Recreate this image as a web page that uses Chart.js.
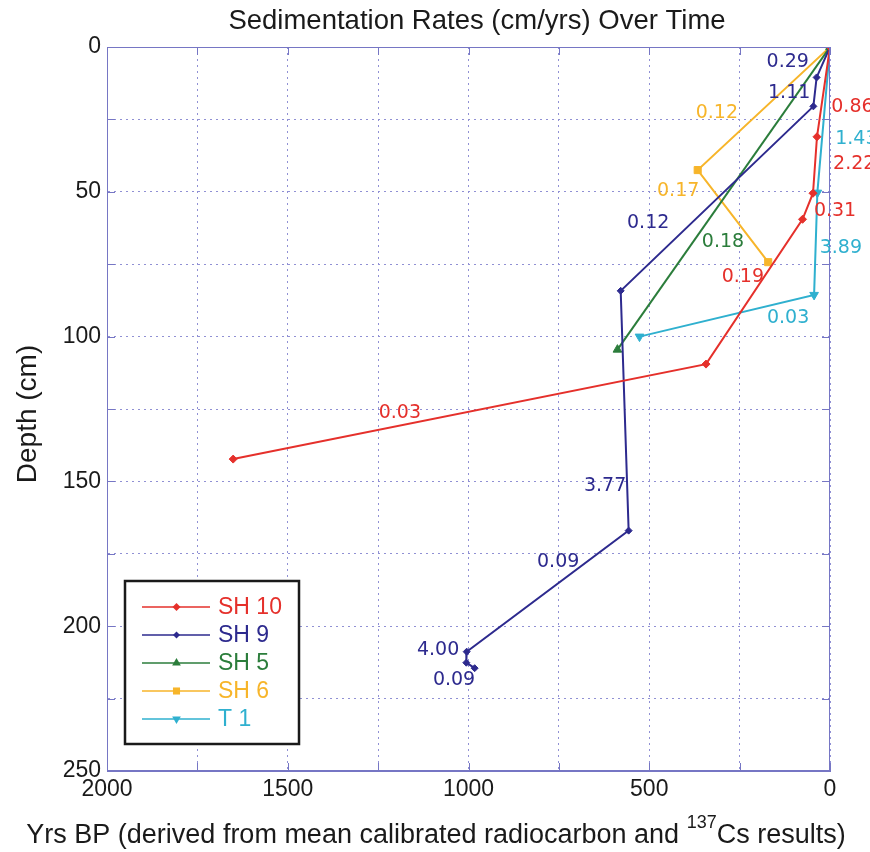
<!DOCTYPE html>
<html>
<head>
<meta charset="utf-8">
<script src="https://cdn.jsdelivr.net/npm/chart.js@4.4.1/dist/chart.umd.min.js"></script>
<style>
  html, body { margin: 0; padding: 0; background: #ffffff; }
  #wrap { width: 870px; height: 852px; }
</style>
</head>
<body>
<div id="wrap"><canvas id="c" width="870" height="852"></canvas></div>
<script>
// Core series: age (yrs BP) and depth (cm) for each core
const seriesNames = ['SH 10', 'SH 9', 'SH 5', 'SH 6', 'T 1'];
const sh10Years = [0, 36, 47, 76, 343, 1651];
const sh10Depth = [0, 31, 50.5, 59.5, 109.5, 142.3];
const sh9Years  = [0, 37, 46, 579, 557, 1005, 1006, 983];
const sh9Depth  = [0, 10.5, 20.5, 84.2, 167, 208.8, 212.6, 214.5];
const sh5Years  = [0, 588];
const sh5Depth  = [0, 104.5];
const sh6Years  = [0, 366, 171];
const sh6Depth  = [0, 42.5, 74.3];
const t1Years   = [0, 35, 44, 527];
const t1Depth   = [0, 50.3, 85.6, 100];

// Sedimentation rate (cm/yr) of each segment, per core
const sh10Rates = ['0.86', '2.22', '0.31', '0.19', '0.03'];
const sh9Rates  = ['0.29', '1.11', '0.12', '3.77', '0.09', '4.00', '0.09'];
const sh5Rates  = ['0.18'];
const sh6Rates  = ['0.12', '0.17'];
const t1Rates   = ['1.43', '3.89', '0.03'];

// Tick labels
const xTickLabels = [2000, 1500, 1000, 500, 0];
const yTickLabels = [0, 50, 100, 150, 200, 250];

// Where each rate label sits, as [yrs BP, depth] anchors
const rateLabelAnchors = [
  [[-62, 20.7], [-67, 40.4], [-14, 56.5], [241, 79.3], [1190, 126.5]],
  [[117, 5.1], [113, 15.8], [503, 60.8], [622, 151.6], [752, 177.7], [1084, 208.2], [1040, 218.6]],
  [[296, 67.2]],
  [[313, 22.8], [420, 49.6]],
  [[-73, 31.8], [-30, 69.3], [116, 93.6]]
];

const colors = ['#e5302b', '#2d2a8e', '#2b7d3b', '#f7b52a', '#2fb0cf'];
const markers = [
  { style: 'rectRot', radius: 4, rotation: 0 },
  { style: 'rectRot', radius: 3.5, rotation: 0 },
  { style: 'triangle', radius: 5, rotation: 0 },
  { style: 'rect', radius: 5, rotation: 0 },
  { style: 'triangle', radius: 5, rotation: 180 }
];

const yearSets = [sh10Years, sh9Years, sh5Years, sh6Years, t1Years];
const depthSets = [sh10Depth, sh9Depth, sh5Depth, sh6Depth, t1Depth];
const rateSets = [sh10Rates, sh9Rates, sh5Rates, sh6Rates, t1Rates];

const datasets = seriesNames.map((name, i) => ({
  label: name,
  data: yearSets[i].map((yr, k) => ({ x: yr, y: depthSets[i][k] })),
  showLine: true,
  borderColor: colors[i],
  backgroundColor: colors[i],
  borderWidth: 2,
  pointStyle: markers[i].style,
  pointRadius: markers[i].radius,
  pointRotation: markers[i].rotation,
  pointBackgroundColor: colors[i],
  pointBorderColor: colors[i],
  pointBorderWidth: 1,
  tension: 0
}));

const GRID = '#9090d4';
const AXIS = '#7676c4';
const SANS = '"Liberation Sans", Arial, sans-serif';

function drawMarker(ctx, style, x, y, r, color, rotation) {
  ctx.save();
  ctx.translate(x, y);
  ctx.rotate(rotation * Math.PI / 180);
  ctx.fillStyle = color;
  ctx.beginPath();
  if (style === 'rectRot') {
    ctx.moveTo(0, -r); ctx.lineTo(r, 0); ctx.lineTo(0, r); ctx.lineTo(-r, 0);
  } else if (style === 'rect') {
    const s = r * Math.SQRT1_2;
    ctx.rect(-s, -s, 2 * s, 2 * s);
  } else if (style === 'triangle') {
    ctx.moveTo(0, -r); ctx.lineTo(r * 0.866, r * 0.5); ctx.lineTo(-r * 0.866, r * 0.5);
  }
  ctx.closePath();
  ctx.fill();
  ctx.restore();
}

const decorations = {
  id: 'decorations',
  afterDraw(chart) {
    const ctx = chart.ctx;
    const area = chart.chartArea;
    const xs = chart.scales.x;
    const ys = chart.scales.y;
    ctx.save();

    // plot box
    ctx.strokeStyle = AXIS;
    ctx.lineWidth = 1;
    ctx.strokeRect(area.left + 0.5, area.top + 0.5, area.right - area.left - 1, area.bottom - area.top - 1);

    // inward tick marks on all four sides
    ctx.beginPath();
    for (let v = 0; v <= 2000; v += 250) {
      const px = Math.round(xs.getPixelForValue(v)) + 0.5;
      ctx.moveTo(px, area.bottom); ctx.lineTo(px, area.bottom - 8);
      ctx.moveTo(px, area.top); ctx.lineTo(px, area.top + 8);
    }
    for (let v = 0; v <= 250; v += 25) {
      const py = Math.round(ys.getPixelForValue(v)) + 0.5;
      ctx.moveTo(area.left, py); ctx.lineTo(area.left + 8, py);
      ctx.moveTo(area.right, py); ctx.lineTo(area.right - 8, py);
    }
    ctx.stroke();

    // segment rate labels
    ctx.font = '19px "DejaVu Sans", sans-serif';
    ctx.textAlign = 'center';
    ctx.textBaseline = 'middle';
    rateSets.forEach((rates, i) => {
      ctx.fillStyle = colors[i];
      rates.forEach((txt, k) => {
        const a = rateLabelAnchors[i][k];
        ctx.fillText(txt, xs.getPixelForValue(a[0]), ys.getPixelForValue(a[1]));
      });
    });

    // legend
    const lx = 125, ly = 581, lw = 174, lh = 163;
    ctx.fillStyle = '#ffffff';
    ctx.fillRect(lx, ly, lw, lh);
    ctx.strokeStyle = '#1a1a1a';
    ctx.lineWidth = 2.5;
    ctx.strokeRect(lx, ly, lw, lh);
    ctx.font = '23px ' + SANS;
    ctx.textAlign = 'left';
    ctx.textBaseline = 'middle';
    seriesNames.forEach((name, i) => {
      const y = 607 + i * 28;
      ctx.strokeStyle = colors[i];
      ctx.lineWidth = 1.6;
      ctx.beginPath();
      ctx.moveTo(142, y); ctx.lineTo(210, y);
      ctx.stroke();
      drawMarker(ctx, markers[i].style, 176.5, y, markers[i].radius, colors[i], markers[i].rotation);
      ctx.fillStyle = colors[i];
      ctx.fillText(name, 218, y + 1);
    });

    // title
    ctx.fillStyle = '#1a1a1a';
    ctx.textAlign = 'center';
    ctx.textBaseline = 'middle';
    ctx.font = '27.5px ' + SANS;
    ctx.fillText('Sedimentation Rates (cm/yrs) Over Time', 477, 21);

    // y axis title
    ctx.save();
    ctx.translate(28, 414);
    ctx.rotate(-Math.PI / 2);
    ctx.font = '28px ' + SANS;
    ctx.fillText('Depth (cm)', 0, 0);
    ctx.restore();

    // x axis title with superscript mass number
    const partA = 'Yrs BP (derived from mean calibrated radiocarbon and ';
    const sup = '137';
    const partB = 'Cs results)';
    const mainFont = '27px ' + SANS;
    const supFont = '18px ' + SANS;
    ctx.font = mainFont; const wA = ctx.measureText(partA).width; const wB = ctx.measureText(partB).width;
    ctx.font = supFont; const wS = ctx.measureText(sup).width;
    const total = wA + wS + wB;
    const target = 852;
    const sx = Math.min(1, target / total);
    ctx.save();
    ctx.translate(436 - total * sx / 2, 0);
    ctx.scale(sx, 1);
    ctx.textAlign = 'left';
    ctx.textBaseline = 'alphabetic';
    ctx.font = mainFont; ctx.fillText(partA, 0, 843);
    ctx.font = supFont; ctx.fillText(sup, wA, 828);
    ctx.font = mainFont; ctx.fillText(partB, wA + wS, 843);
    ctx.restore();

    ctx.restore();
  }
};

new Chart(document.getElementById('c'), {
  type: 'scatter',
  data: { datasets },
  options: {
    responsive: false,
    animation: false,
    devicePixelRatio: 1,
    layout: { padding: { top: 47, right: 40, left: 0, bottom: 0 } },
    plugins: { legend: { display: false }, title: { display: false }, tooltip: { enabled: false } },
    scales: {
      x: {
        type: 'linear',
        reverse: true,
        min: 0,
        max: 2000,
        afterFit(scale) { scale.height = 81; },
        grid: { color: GRID, lineWidth: 1, drawTicks: false },
        border: { color: AXIS, width: 1, dash: [2, 4] },
        ticks: {
          stepSize: 250,
          autoSkip: false,
          maxRotation: 0,
          padding: 5,
          color: '#1a1a1a',
          font: { family: SANS, size: 23 },
          callback: (v) => (xTickLabels.includes(v) ? String(v) : '')
        }
      },
      y: {
        type: 'linear',
        reverse: true,
        min: 0,
        max: 250,
        afterFit(scale) { scale.width = 107; },
        grid: { color: GRID, lineWidth: 1, drawTicks: false },
        border: { color: AXIS, width: 1, dash: [2, 4] },
        ticks: {
          stepSize: 25,
          autoSkip: false,
          padding: 6,
          color: '#1a1a1a',
          font: { family: SANS, size: 23 },
          callback: (v) => (yTickLabels.includes(v) ? String(v) : '')
        }
      }
    }
  },
  plugins: [decorations]
});
</script>
</body>
</html>
